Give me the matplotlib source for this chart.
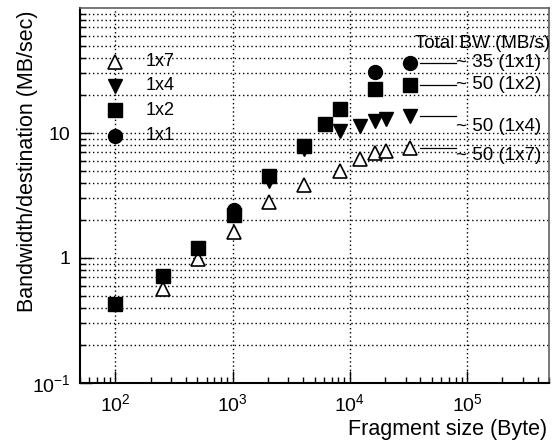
import numpy as np
import matplotlib
matplotlib.use("Agg")
from matplotlib import pyplot as plt
from matplotlib.ticker import LogLocator, FixedLocator, NullFormatter

plt.rcParams['font.family'] = ['Liberation Sans', 'DejaVu Sans']
plt.rcParams['mathtext.default'] = 'regular'

# fragment sizes (Byte) and bandwidth per destination (MB/sec)
size_1x1 = [1024, 16384, 32768]
bw_1x1 = [2.4, 30.9, 36.4]

size_1x2 = [100, 256, 512, 1024, 2048, 4096, 6144, 8192, 16384, 32768]
bw_1x2 = [0.426, 0.72, 1.21, 2.2, 4.5, 7.9, 11.9, 15.7, 22.5, 24.3]

size_1x4 = [2048, 4096, 8192, 12288, 16384, 20480, 32768]
bw_1x4 = [4.1, 7.4, 10.3, 11.3, 12.4, 13.0, 13.6]

size_1x7 = [256, 512, 1024, 2048, 4096, 8192, 12288, 16384, 20480, 32768]
bw_1x7 = [0.56, 0.98, 1.62, 2.8, 3.87, 5.0, 6.2, 6.9, 7.2, 7.65]

legend_names = ["1x7", "1x4", "1x2", "1x1"]
total_labels = ["~ 35 (1x1)", "~ 50 (1x2)", "~ 50 (1x4)", "~ 50 (1x7)"]
total_title = "Total BW (MB/s)"

x_ticks = [1e2, 1e3, 1e4, 1e5]
x_ticklabels = [r'$10^{2}$', r'$10^{3}$', r'$10^{4}$', r'$10^{5}$']
y_ticks = [0.1, 1, 10]
y_ticklabels = [r'$10^{-1}$', '1', '10']

fig = plt.figure(figsize=(5.6, 4.45), dpi=100)
ax = fig.add_axes([80/560, 62/445, 469/560, 375/445])
ax.set_xscale('log')
ax.set_yscale('log')
ax.set_xlim(50, 5e5)
ax.set_ylim(0.1, 100)

ms = 10
ax.plot(size_1x7, bw_1x7, ls='none', marker='^', ms=ms, mfc='white', mec='black', mew=1.2, zorder=3)
ax.plot(size_1x4, bw_1x4, ls='none', marker='v', ms=ms, color='black', zorder=4)
ax.plot(size_1x1, bw_1x1, ls='none', marker='o', ms=ms, color='black', zorder=5)
ax.plot(size_1x2, bw_1x2, ls='none', marker='s', ms=ms - 0.5, color='black', zorder=6)

# left legend (markers + labels)
leg_markers = [dict(marker='^', mfc='white', mec='black', mew=1.2),
               dict(marker='v', color='black'),
               dict(marker='s', color='black'),
               dict(marker='o', color='black')]
leg_y = [0.857, 0.793, 0.727, 0.660]
for name, mk, yy in zip(legend_names, leg_markers, leg_y):
    ax.plot([0.075], [yy], transform=ax.transAxes, ls='none', ms=ms, clip_on=False, **mk)
    ax.text(0.139, yy, name, transform=ax.transAxes, fontsize=13, va='center', ha='left')

# total bandwidth annotations next to the last points
last_bw = [bw_1x1[-1], bw_1x2[-1], bw_1x4[-1], bw_1x7[-1]]
last_size = size_1x2[-1]
text_shift = [0, 0, -7, -6]
for lab, yv, dy in zip(total_labels, last_bw, text_shift):
    ax.plot([last_size * 1.22, last_size * 2.45], [yv, yv], color='black', lw=0.9)
    ax.annotate(lab, (last_size * 2.45, yv), xytext=(0, dy), textcoords='offset points',
                fontsize=13.5, va='center', ha='left', annotation_clip=False)
ax.annotate(total_title, (last_size * 1.1, bw_1x1[-1]), xytext=(0, 14), textcoords='offset points',
            fontsize=13.5, va='center', ha='left', annotation_clip=False)

# axes cosmetics
ax.xaxis.set_major_locator(FixedLocator(x_ticks))
ax.set_xticklabels(x_ticklabels, fontsize=14)
ax.xaxis.set_minor_locator(LogLocator(base=10, subs=np.arange(2, 10), numticks=20))
ax.xaxis.set_minor_formatter(NullFormatter())
ax.yaxis.set_major_locator(FixedLocator(y_ticks))
ax.set_yticklabels(y_ticklabels, fontsize=14)
ax.yaxis.set_minor_locator(LogLocator(base=10, subs=np.arange(2, 10), numticks=20))
ax.yaxis.set_minor_formatter(NullFormatter())

ax.tick_params(axis='both', which='major', direction='in', length=8.5, width=1, pad=7)
ax.tick_params(axis='both', which='minor', direction='in', length=4.5, width=1)
ax.tick_params(top=False, right=False, which='both')

ax.grid(True, which='major', axis='x', color='black', ls=(0, (1, 2)), lw=1)
ax.grid(True, which='both', axis='y', color='black', ls=(0, (1, 2)), lw=1)

for s in ['left', 'bottom']:
    ax.spines[s].set_linewidth(1.5)
for s in ['top', 'right']:
    ax.spines[s].set_color('#606060')
    ax.spines[s].set_linewidth(1.2)

fig.text(547/560, 1 - 430/445, "Fragment size (Byte)", fontsize=15.5, ha='right', va='center')
fig.text(28/560, 1 - 10/445, "Bandwidth/destination (MB/sec)", fontsize=15.5,
         rotation=90, ha='center', va='top')

fig.savefig("out.png", dpi=100)
